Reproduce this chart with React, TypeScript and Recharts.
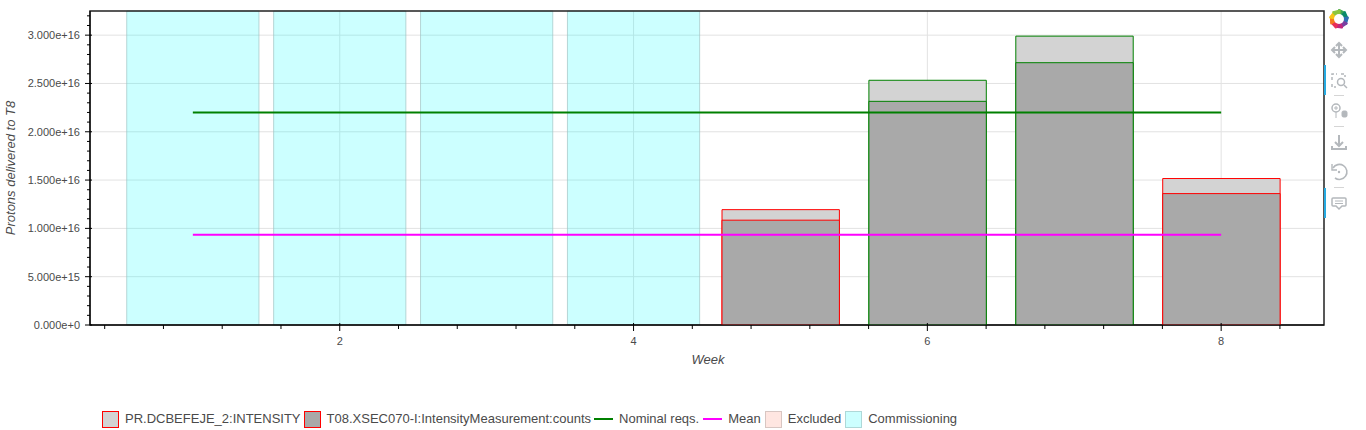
import { Bar, CartesianGrid, Cell, ComposedChart, Legend, Line, ReferenceArea, XAxis, YAxis } from 'recharts';

const FONT = '"Liberation Sans", Arial, sans-serif';
const TEXT_COLOR = '#4a4a4a';

const WEEKS = [1, 2, 3, 4, 5, 6, 7, 8];
const PR_INTENSITY = [null, null, null, null, 1.194e16, 2.533e16, 2.99e16, 1.516e16];
const T08_COUNTS = [null, null, null, null, 1.085e16, 2.315e16, 2.715e16, 1.36e16];
const BAR_STROKES = ['none', 'none', 'none', 'none', '#ff0000', '#008000', '#008000', '#ff0000'];
const NOMINAL = [2.2e16, 2.2e16, 2.2e16, 2.2e16, 2.2e16, 2.2e16, 2.2e16, 2.2e16];
const MEAN = [9.35e15, 9.35e15, 9.35e15, 9.35e15, 9.35e15, 9.35e15, 9.35e15, 9.35e15];
const COMMISSIONING: [number, number][] = [[0.55, 1.45], [1.55, 2.45], [2.55, 3.45], [3.55, 4.45]];

const X_DOMAIN = [0.3, 8.7];
const Y_DOMAIN = [0, 3.25e16];
const X_TICKS = [0.4, 0.8, 1.2, 1.6, 2, 2.4, 2.8, 3.2, 3.6, 4, 4.4, 4.8, 5.2, 5.6, 6, 6.4, 6.8, 7.2, 7.6, 8, 8.4];
const X_LABELS = [2, 4, 6, 8];
const Y_TICKS = Array.from({ length: 33 }, (_, i) => i * 1e15);
const Y_LABELS: Record<number, string> = {
  0: '0.000e+0',
  5e15: '5.000e+15',
  1e16: '1.000e+16',
  1.5e16: '1.500e+16',
  2e16: '2.000e+16',
  2.5e16: '2.500e+16',
  3e16: '3.000e+16',
};
const Y_GRID = [5e15, 1e16, 1.5e16, 2e16, 2.5e16, 3e16];

const LEGEND_ITEMS = [
  { label: 'PR.DCBEFEJE_2:INTENSITY', kind: 'box', fill: '#d3d3d3', stroke: '#ff0000' },
  { label: 'T08.XSEC070-I:IntensityMeasurement:counts', kind: 'box', fill: '#a9a9a9', stroke: '#ff0000' },
  { label: 'Nominal reqs.', kind: 'line', stroke: '#008000' },
  { label: 'Mean', kind: 'line', stroke: '#ff00ff' },
  { label: 'Excluded', kind: 'box', fill: '#ffe6e1', stroke: '#d8c6c2' },
  { label: 'Commissioning', kind: 'box', fill: '#ccffff', stroke: '#aed8d8' },
];

const chartData = WEEKS.map((week, i) => ({
  week,
  pr: PR_INTENSITY[i],
  t08: T08_COUNTS[i],
  nominal: NOMINAL[i],
  mean: MEAN[i],
}));

const XTick = ({ x, y, payload }: any) => {
  const major = X_LABELS.includes(payload.value);
  return (
    <g>
      <line x1={x} x2={x} y1={major ? y - 2 : y} y2={major ? y + 6 : y + 4} stroke="#000" strokeWidth={1} />
      {major && (
        <text x={x} y={y + 20} textAnchor="middle" fontSize={11} fontFamily={FONT} fill={TEXT_COLOR}>
          {payload.value}
        </text>
      )}
    </g>
  );
};

const YTick = ({ x, y, payload }: any) => {
  const label = Y_LABELS[payload.value];
  return (
    <g>
      <line x1={label ? x - 5 : x - 3} x2={label ? x + 2 : x} y1={y} y2={y} stroke="#000" strokeWidth={1} />
      {label && (
        <text x={x - 10} y={y + 4} textAnchor="end" fontSize={11} fontFamily={FONT} fill={TEXT_COLOR}>
          {label}
        </text>
      )}
    </g>
  );
};

const ChartLegend = () => (
  <div
    style={{
      display: 'flex',
      alignItems: 'center',
      height: 20,
      fontFamily: FONT,
      fontSize: 13,
      lineHeight: '17px',
      color: TEXT_COLOR,
      whiteSpace: 'nowrap',
    }}
  >
    {LEGEND_ITEMS.map((item, i) => (
      <div key={item.label} style={{ display: 'flex', alignItems: 'center', marginRight: i < 2 ? 3 : 4 }}>
        {item.kind === 'box' ? (
          <div
            style={{
              width: 15,
              height: 15,
              marginRight: 6,
              background: item.fill,
              border: `1px solid ${item.stroke}`,
            }}
          />
        ) : (
          <div style={{ width: 19, height: 2, marginRight: 6, background: item.stroke }} />
        )}
        <span style={{ position: 'relative', top: -1 }}>{item.label}</span>
      </div>
    ))}
  </div>
);

// bokeh toolbar, only there to match the picture
const Toolbar = () => {
  const icon = '#b4b8bc';
  const wedges = ['#3aa655', '#0b8a6b', '#2f6fb5', '#7b3fa0', '#c2277f', '#e8305a', '#f47b20', '#f5c518', '#8cc63f'];
  return (
    <svg width={42} height={230} style={{ position: 'absolute', left: 1324, top: 0 }}>
      <rect x={0} y={65} width={2} height={30} fill="#26aae1" />
      <rect x={0} y={188} width={2} height={30} fill="#26aae1" />
      {wedges.map((color, i) => (
        <path
          key={color}
          d="M 15 19 L 15 10 L 21 13 Z"
          fill={color}
          transform={`rotate(${i * 40} 15 19) `}
          stroke={color}
          strokeWidth={2}
          strokeLinejoin="round"
        />
      ))}
      <circle cx={15} cy={19} r={5} fill="#fff" />
      <g fill="none" stroke={icon} strokeWidth={2}>
        <path d="M15 43 V57 M8 50 H22" />
        <path d="M12 46 L15 43 L18 46 M12 54 L15 57 L18 54 M11 47 L8 50 L11 53 M19 47 L22 50 L19 53" />
        <path d="M8 80 V74 H13 M17 74 H21 V77 M8 84 V87 H12" strokeDasharray="3 2" strokeWidth={1.5} />
        <circle cx={17} cy={82} r={3.5} strokeWidth={1.5} />
        <path d="M20 85 L23 88" strokeWidth={1.5} />
        <circle cx={12} cy={108} r={4} strokeWidth={1.5} />
        <path d="M10 108 H14 M12 106 V110 M12 112 V118" strokeWidth={1} />
        <rect x={18} y={111} width={5} height={6} rx={1.5} fill={icon} strokeWidth={1} />
        <path d="M15 135 V146 M11 142 L15 146 L19 142 M8 146 V149 H22 V146" />
        <path d="M9 168 A 7.5 7.5 0 1 1 11 178" strokeWidth={1.6} />
        <path d="M8 164 V170 H13" strokeWidth={1.4} />
        <circle cx={15} cy={172} r={1.2} fill={icon} stroke="none" />
        <path d="M9 198 H21 Q22 198 22 199 V205 Q22 206 21 206 H18 L15 209 L12 206 H9 Q8 206 8 205 V199 Q8 198 9 198 Z" strokeWidth={1.5} />
        <path d="M11 201 H19 M11 203.5 H19" strokeWidth={1} />
      </g>
      <g stroke="#d5d5d5" strokeWidth={1}>
        <line x1={10} x2={20} y1={95.5} y2={95.5} />
        <line x1={10} x2={20} y1={126.5} y2={126.5} />
        <line x1={10} x2={20} y1={187.5} y2={187.5} />
      </g>
    </svg>
  );
};

export default function App() {
  return (
    <div style={{ position: 'absolute', left: 0, top: 0, width: 1366, height: 430, background: '#fff' }}>
      <ComposedChart
        width={1366}
        height={430}
        data={chartData}
        margin={{ top: 11, right: 42, bottom: 0, left: 0 }}
        barGap={-117.4}
      >
        <CartesianGrid stroke="#e2e2e2" horizontalValues={Y_GRID} verticalValues={X_LABELS} />
        {COMMISSIONING.map(([from, to]) => (
          <ReferenceArea
            key={from}
            x1={from}
            x2={to}
            fill="#00ffff"
            fillOpacity={0.2}
            stroke="#9fc4c4"
            strokeOpacity={0.7}
            strokeWidth={1}
          />
        ))}
        <XAxis
          dataKey="week"
          type="number"
          domain={X_DOMAIN}
          ticks={X_TICKS}
          height={85}
          axisLine={{ stroke: '#000' }}
          tickLine={false}
          tickSize={0}
          tickMargin={0}
          tick={<XTick />}
          interval={0}
          allowDataOverflow
          label={{
            value: 'Week',
            position: 'insideTop',
            offset: 30,
            dx: 1,
            fontSize: 13,
            fontStyle: 'italic',
            fontFamily: FONT,
            fill: TEXT_COLOR,
          }}
        />
        <YAxis
          type="number"
          domain={Y_DOMAIN}
          ticks={Y_TICKS}
          width={90}
          axisLine={{ stroke: '#000' }}
          tickLine={false}
          tickSize={0}
          tickMargin={0}
          tick={<YTick />}
          interval={0}
          allowDataOverflow
          label={{
            value: 'Protons delivered to T8',
            angle: -90,
            position: 'insideLeft',
            offset: 0,
            dx: 10,
            fontSize: 13,
            fontStyle: 'italic',
            fontFamily: FONT,
            fill: TEXT_COLOR,
            style: { textAnchor: 'middle' },
          }}
        />
        <Bar dataKey="pr" name="PR.DCBEFEJE_2:INTENSITY" fill="#d3d3d3" barSize={117.4} isAnimationActive={false}>
          {BAR_STROKES.map((stroke, i) => (
            <Cell key={WEEKS[i]} fill="#d3d3d3" stroke={stroke} />
          ))}
        </Bar>
        <Bar dataKey="t08" name="T08.XSEC070-I:IntensityMeasurement:counts" fill="#a9a9a9" barSize={117.4} isAnimationActive={false}>
          {BAR_STROKES.map((stroke, i) => (
            <Cell key={WEEKS[i]} fill="#a9a9a9" stroke={stroke} />
          ))}
        </Bar>
        <Line dataKey="nominal" name="Nominal reqs." stroke="#008000" strokeWidth={2} dot={false} isAnimationActive={false} />
        <Line dataKey="mean" name="Mean" stroke="#ff00ff" strokeWidth={2} dot={false} isAnimationActive={false} />
        <ReferenceArea x1={X_DOMAIN[0]} x2={X_DOMAIN[1]} fill="none" stroke="#222" strokeWidth={1.5} />
        <Legend
          content={<ChartLegend />}
          wrapperStyle={{ position: 'absolute', left: 102, top: 409, width: 900, height: 20 }}
        />
      </ComposedChart>
      <Toolbar />
    </div>
  );
}
